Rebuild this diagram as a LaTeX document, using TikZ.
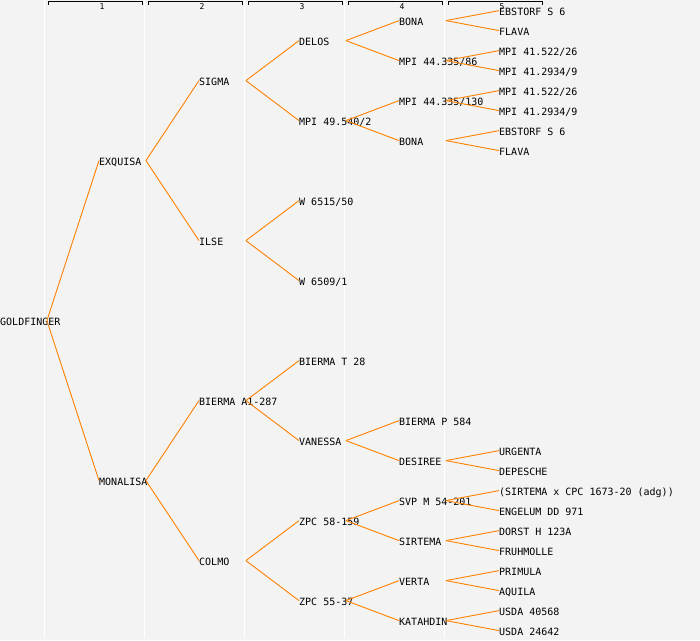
\documentclass[tikz,border=0pt]{standalone}
\usepackage{fontspec}
\setmonofont{DejaVu Sans Mono}
\definecolor{bgcol}{HTML}{F3F3F3}
\definecolor{linkcol}{HTML}{FF8000}
\newcommand\pednode[4]{\node[lbl] (#1) at (#2,#3) {\makebox[46.5pt][l]{#4}};}
\begin{document}
\begin{tikzpicture}[x=1pt,y=-1pt,
  lbl/.style={anchor=west, inner sep=0pt, text height=10pt, text depth=0pt,
    font=\ttfamily\fontsize{10}{12}\selectfont, yshift=1.4pt},
  link/.style={draw=linkcol, line width=0.9pt},
  sep/.style={draw=white, line width=1pt},
  bracket/.style={draw=black, line width=1pt},
  colnum/.style={inner sep=0pt, font=\ttfamily\fontsize{8}{9}\selectfont}]
\useasboundingbox (0,0) rectangle (700,640);
\fill[bgcol] (0,0) rectangle (700,640);
% lane separators
\foreach \i in {0,...,4}{
  \draw[sep] (44.5+100*\i,0) -- (44.5+100*\i,638);
}
% column headers
\foreach \i in {1,...,5}{
  \draw[bracket] (48+100*\i-100,4.5) -- (48+100*\i-100,1.5) -- (142+100*\i-100,1.5) -- (142+100*\i-100,4.5);
  \node[colnum] (h\i) at (102+100*\i-100,6.3) {\i};
}
% generation 0
\pednode{g}{0}{322}{GOLDFINGER}
% generation 1
\pednode{exq}{99}{162}{EXQUISA}
\pednode{mon}{99}{482}{MONALISA}
% generation 2
\pednode{sig}{199}{82}{SIGMA}
\pednode{ils}{199}{242}{ILSE}
\pednode{bia}{199}{402}{BIERMA A1-287}
\pednode{col}{199}{562}{COLMO}
% generation 3
\pednode{del}{299}{42}{DELOS}
\pednode{mpa}{299}{122}{MPI 49.540/2}
\pednode{wa}{299}{202}{W 6515/50}
\pednode{wb}{299}{282}{W 6509/1}
\pednode{bit}{299}{362}{BIERMA T 28}
\pednode{van}{299}{442}{VANESSA}
\pednode{zpa}{299}{522}{ZPC 58-159}
\pednode{zpb}{299}{602}{ZPC 55-37}
% generation 4
\pednode{bona}{399}{22}{BONA}
\pednode{mpb}{399}{62}{MPI 44.335/86}
\pednode{mpc}{399}{102}{MPI 44.335/130}
\pednode{bonb}{399}{142}{BONA}
\pednode{bip}{399}{422}{BIERMA P 584}
\pednode{des}{399}{462}{DESIREE}
\pednode{svp}{399}{502}{SVP M 54-201}
\pednode{sir}{399}{542}{SIRTEMA}
\pednode{ver}{399}{582}{VERTA}
\pednode{kat}{399}{622}{KATAHDIN}
% generation 5
\pednode{eba}{499}{12}{EBSTORF S 6}
\pednode{fla}{499}{32}{FLAVA}
\pednode{m1}{499}{52}{MPI 41.522/26}
\pednode{m2}{499}{72}{MPI 41.2934/9}
\pednode{m3}{499}{92}{MPI 41.522/26}
\pednode{m4}{499}{112}{MPI 41.2934/9}
\pednode{ebb}{499}{132}{EBSTORF S 6}
\pednode{flb}{499}{152}{FLAVA}
\pednode{urg}{499}{452}{URGENTA}
\pednode{dep}{499}{472}{DEPESCHE}
\pednode{sxc}{499}{492}{(SIRTEMA x CPC 1673-20 (adg))}
\pednode{eng}{499}{512}{ENGELUM DD 971}
\pednode{dor}{499}{532}{DORST H 123A}
\pednode{fru}{499}{552}{FRUHMOLLE}
\pednode{pri}{499}{572}{PRIMULA}
\pednode{aqu}{499}{592}{AQUILA}
\pednode{usa}{499}{612}{USDA 40568}
\pednode{usb}{499}{632}{USDA 24642}
% connectors
\foreach \p/\c in {g/exq, g/mon,
  exq/sig, exq/ils, mon/bia, mon/col,
  sig/del, sig/mpa, ils/wa, ils/wb, bia/bit, bia/van, col/zpa, col/zpb,
  del/bona, del/mpb, mpa/mpc, mpa/bonb, van/bip, van/des, zpa/svp, zpa/sir, zpb/ver, zpb/kat,
  bona/eba, bona/fla, mpb/m1, mpb/m2, mpc/m3, mpc/m4, bonb/ebb, bonb/flb,
  des/urg, des/dep, svp/sxc, svp/eng, sir/dor, sir/fru, ver/pri, ver/aqu, kat/usa, kat/usb}{
  \draw[link] (\p.east) -- (\c.west);
}
\end{tikzpicture}
\end{document}
